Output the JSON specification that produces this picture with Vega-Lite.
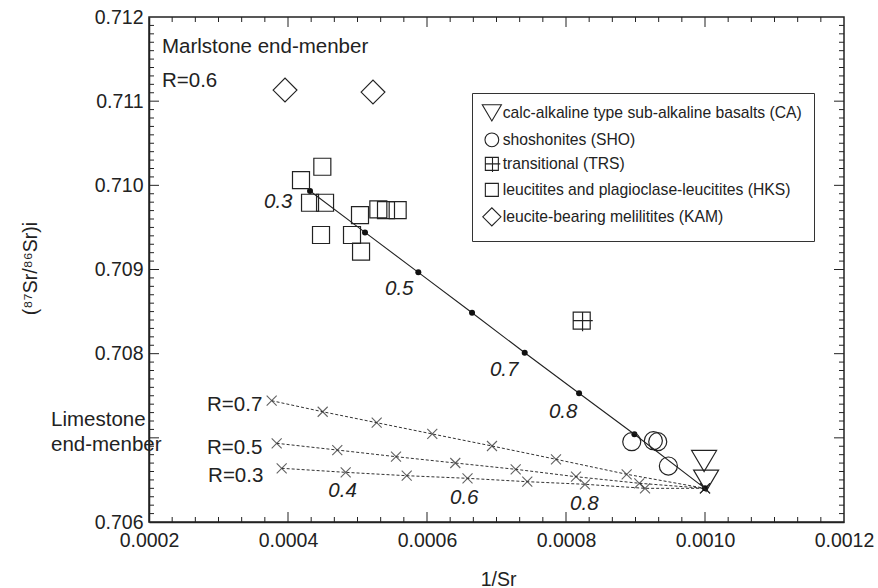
{
  "$schema": "https://vega.github.io/schema/vega-lite/v6.json",
  "width": 695,
  "height": 505,
  "autosize": {"type": "none"},
  "padding": {"left": 149, "top": 17, "right": 34, "bottom": 66},
  "background": "white",
  "config": {
    "view": {"stroke": "#222", "strokeWidth": 1.5},
    "font": "Liberation Sans",
    "axis": {
      "grid": false,
      "labelFont": "Liberation Sans",
      "labelFontSize": 19.5,
      "labelColor": "#222",
      "domainColor": "#222",
      "domainWidth": 1.5,
      "titleFont": "Liberation Sans",
      "titleFontSize": 19.5,
      "titleFontWeight": "normal",
      "titleColor": "#222"
    }
  },
  "datasets": {
    "xticks": [
      {"v": 0.0004, "kind": "major"}, {"v": 0.0006, "kind": "major"}, {"v": 0.0008, "kind": "major"}, {"v": 0.001, "kind": "major"},
      {"v": 0.000233333, "kind": "minor"}, {"v": 0.000266667, "kind": "minor"}, {"v": 0.0003, "kind": "minor"}, {"v": 0.000333333, "kind": "minor"}, {"v": 0.000366667, "kind": "minor"},
      {"v": 0.000433333, "kind": "minor"}, {"v": 0.000466667, "kind": "minor"}, {"v": 0.0005, "kind": "minor"}, {"v": 0.000533333, "kind": "minor"}, {"v": 0.000566667, "kind": "minor"},
      {"v": 0.000633333, "kind": "minor"}, {"v": 0.000666667, "kind": "minor"}, {"v": 0.0007, "kind": "minor"}, {"v": 0.000733333, "kind": "minor"}, {"v": 0.000766667, "kind": "minor"},
      {"v": 0.000833333, "kind": "minor"}, {"v": 0.000866667, "kind": "minor"}, {"v": 0.0009, "kind": "minor"}, {"v": 0.000933333, "kind": "minor"}, {"v": 0.000966667, "kind": "minor"},
      {"v": 0.001033333, "kind": "minor"}, {"v": 0.001066667, "kind": "minor"}, {"v": 0.0011, "kind": "minor"}, {"v": 0.001133333, "kind": "minor"}, {"v": 0.001166667, "kind": "minor"}
    ],
    "yticks": [
      {"v": 0.707, "kind": "major"}, {"v": 0.708, "kind": "major"}, {"v": 0.709, "kind": "major"}, {"v": 0.71, "kind": "major"}, {"v": 0.711, "kind": "major"},
      {"v": 0.7061, "kind": "minor"}, {"v": 0.7062, "kind": "minor"}, {"v": 0.7063, "kind": "minor"}, {"v": 0.7064, "kind": "minor"}, {"v": 0.7065, "kind": "minor"}, {"v": 0.7066, "kind": "minor"}, {"v": 0.7067, "kind": "minor"}, {"v": 0.7068, "kind": "minor"}, {"v": 0.7069, "kind": "minor"},
      {"v": 0.7071, "kind": "minor"}, {"v": 0.7072, "kind": "minor"}, {"v": 0.7073, "kind": "minor"}, {"v": 0.7074, "kind": "minor"}, {"v": 0.7075, "kind": "minor"}, {"v": 0.7076, "kind": "minor"}, {"v": 0.7077, "kind": "minor"}, {"v": 0.7078, "kind": "minor"}, {"v": 0.7079, "kind": "minor"},
      {"v": 0.7081, "kind": "minor"}, {"v": 0.7082, "kind": "minor"}, {"v": 0.7083, "kind": "minor"}, {"v": 0.7084, "kind": "minor"}, {"v": 0.7085, "kind": "minor"}, {"v": 0.7086, "kind": "minor"}, {"v": 0.7087, "kind": "minor"}, {"v": 0.7088, "kind": "minor"}, {"v": 0.7089, "kind": "minor"},
      {"v": 0.7091, "kind": "minor"}, {"v": 0.7092, "kind": "minor"}, {"v": 0.7093, "kind": "minor"}, {"v": 0.7094, "kind": "minor"}, {"v": 0.7095, "kind": "minor"}, {"v": 0.7096, "kind": "minor"}, {"v": 0.7097, "kind": "minor"}, {"v": 0.7098, "kind": "minor"}, {"v": 0.7099, "kind": "minor"},
      {"v": 0.7101, "kind": "minor"}, {"v": 0.7102, "kind": "minor"}, {"v": 0.7103, "kind": "minor"}, {"v": 0.7104, "kind": "minor"}, {"v": 0.7105, "kind": "minor"}, {"v": 0.7106, "kind": "minor"}, {"v": 0.7107, "kind": "minor"}, {"v": 0.7108, "kind": "minor"}, {"v": 0.7109, "kind": "minor"},
      {"v": 0.7111, "kind": "minor"}, {"v": 0.7112, "kind": "minor"}, {"v": 0.7113, "kind": "minor"}, {"v": 0.7114, "kind": "minor"}, {"v": 0.7115, "kind": "minor"}, {"v": 0.7116, "kind": "minor"}, {"v": 0.7117, "kind": "minor"}, {"v": 0.7118, "kind": "minor"}, {"v": 0.7119, "kind": "minor"}
    ],
    "dash": [
      {"series": "R=0.7", "f": 0.3, "inv_sr": 0.0003765, "sr_ratio": 0.707441},
      {"series": "R=0.7", "f": 0.4, "inv_sr": 0.0004499, "sr_ratio": 0.70731},
      {"series": "R=0.7", "f": 0.5, "inv_sr": 0.0005276, "sr_ratio": 0.70718},
      {"series": "R=0.7", "f": 0.6, "inv_sr": 0.0006076, "sr_ratio": 0.707046},
      {"series": "R=0.7", "f": 0.7, "inv_sr": 0.0006935, "sr_ratio": 0.706903},
      {"series": "R=0.7", "f": 0.8, "inv_sr": 0.0007856, "sr_ratio": 0.706745},
      {"series": "R=0.7", "f": 0.9, "inv_sr": 0.0008873, "sr_ratio": 0.706567},
      {"series": "R=0.7", "f": 1.0, "inv_sr": 0.001, "sr_ratio": 0.7064},
      {"series": "R=0.5", "f": 0.3, "inv_sr": 0.0003837, "sr_ratio": 0.706935},
      {"series": "R=0.5", "f": 0.4, "inv_sr": 0.0004709, "sr_ratio": 0.706855},
      {"series": "R=0.5", "f": 0.5, "inv_sr": 0.0005554, "sr_ratio": 0.706776},
      {"series": "R=0.5", "f": 0.6, "inv_sr": 0.0006407, "sr_ratio": 0.706701},
      {"series": "R=0.5", "f": 0.7, "inv_sr": 0.0007276, "sr_ratio": 0.706626},
      {"series": "R=0.5", "f": 0.8, "inv_sr": 0.0008144, "sr_ratio": 0.706538},
      {"series": "R=0.5", "f": 0.9, "inv_sr": 0.0009055, "sr_ratio": 0.70646},
      {"series": "R=0.5", "f": 1.0, "inv_sr": 0.001, "sr_ratio": 0.7064},
      {"series": "R=0.3", "f": 0.3, "inv_sr": 0.0003909, "sr_ratio": 0.706638},
      {"series": "R=0.3", "f": 0.4, "inv_sr": 0.000483, "sr_ratio": 0.70659},
      {"series": "R=0.3", "f": 0.5, "inv_sr": 0.0005708, "sr_ratio": 0.70655},
      {"series": "R=0.3", "f": 0.6, "inv_sr": 0.0006583, "sr_ratio": 0.706519},
      {"series": "R=0.3", "f": 0.7, "inv_sr": 0.0007443, "sr_ratio": 0.706479},
      {"series": "R=0.3", "f": 0.8, "inv_sr": 0.0008273, "sr_ratio": 0.706448},
      {"series": "R=0.3", "f": 0.9, "inv_sr": 0.0009137, "sr_ratio": 0.7064},
      {"series": "R=0.3", "f": 1.0, "inv_sr": 0.001, "sr_ratio": 0.7064}
    ],
    "mix": [
      {"f": 0.3, "inv_sr": 0.0004317, "sr_ratio": 0.709932},
      {"f": 0.4, "inv_sr": 0.0005108, "sr_ratio": 0.709441},
      {"f": 0.5, "inv_sr": 0.0005875, "sr_ratio": 0.708966},
      {"f": 0.6, "inv_sr": 0.0006648, "sr_ratio": 0.708486},
      {"f": 0.7, "inv_sr": 0.0007406, "sr_ratio": 0.708011},
      {"f": 0.8, "inv_sr": 0.0008188, "sr_ratio": 0.707529},
      {"f": 0.9, "inv_sr": 0.0008984, "sr_ratio": 0.707042},
      {"f": 1.0, "inv_sr": 0.001, "sr_ratio": 0.7064}
    ],
    "samples": [
      {"group": "calc-alkaline type sub-alkaline basalts (CA)", "inv_sr": 0.0009987, "sr_ratio": 0.706725},
      {"group": "calc-alkaline type sub-alkaline basalts (CA)", "inv_sr": 0.0010016, "sr_ratio": 0.706491},
      {"group": "shoshonites (SHO)", "inv_sr": 0.0008946, "sr_ratio": 0.706954},
      {"group": "shoshonites (SHO)", "inv_sr": 0.0009257, "sr_ratio": 0.706966},
      {"group": "shoshonites (SHO)", "inv_sr": 0.000932, "sr_ratio": 0.706954},
      {"group": "shoshonites (SHO)", "inv_sr": 0.0009473, "sr_ratio": 0.706665},
      {"group": "transitional (TRS)", "inv_sr": 0.0008226, "sr_ratio": 0.708392},
      {"group": "leucitites and plagioclase-leucitites (HKS)", "inv_sr": 0.0004187, "sr_ratio": 0.710063},
      {"group": "leucitites and plagioclase-leucitites (HKS)", "inv_sr": 0.0004494, "sr_ratio": 0.710221},
      {"group": "leucitites and plagioclase-leucitites (HKS)", "inv_sr": 0.0004317, "sr_ratio": 0.709793},
      {"group": "leucitites and plagioclase-leucitites (HKS)", "inv_sr": 0.0004533, "sr_ratio": 0.709793},
      {"group": "leucitites and plagioclase-leucitites (HKS)", "inv_sr": 0.0004475, "sr_ratio": 0.70941},
      {"group": "leucitites and plagioclase-leucitites (HKS)", "inv_sr": 0.0005036, "sr_ratio": 0.709647},
      {"group": "leucitites and plagioclase-leucitites (HKS)", "inv_sr": 0.0004921, "sr_ratio": 0.70941},
      {"group": "leucitites and plagioclase-leucitites (HKS)", "inv_sr": 0.0005051, "sr_ratio": 0.709212},
      {"group": "leucitites and plagioclase-leucitites (HKS)", "inv_sr": 0.00053, "sr_ratio": 0.709714},
      {"group": "leucitites and plagioclase-leucitites (HKS)", "inv_sr": 0.000541, "sr_ratio": 0.709706},
      {"group": "leucitites and plagioclase-leucitites (HKS)", "inv_sr": 0.0005578, "sr_ratio": 0.709706},
      {"group": "leucite-bearing melilitites (KAM)", "inv_sr": 0.0003957, "sr_ratio": 0.711132},
      {"group": "leucite-bearing melilitites (KAM)", "inv_sr": 0.0005223, "sr_ratio": 0.711108}
    ],
    "notes": [
      {"label": "Marlstone end-menber", "inv_sr": 0.0002187, "sr_ratio": 0.711572},
      {"label": "R=0.6", "inv_sr": 0.0002187, "sr_ratio": 0.711165},
      {"label": "R=0.7", "inv_sr": 0.0002835, "sr_ratio": 0.707322},
      {"label": "R=0.5", "inv_sr": 0.0002835, "sr_ratio": 0.706804},
      {"label": "R=0.3", "inv_sr": 0.000285, "sr_ratio": 0.706479},
      {"label": "Limestone", "inv_sr": 0.000059, "sr_ratio": 0.707144},
      {"label": "end-menber", "inv_sr": 0.000059, "sr_ratio": 0.706847}
    ],
    "fractions": [
      {"label": "0.3", "inv_sr": 0.0003655, "sr_ratio": 0.709727},
      {"label": "0.5", "inv_sr": 0.0005396, "sr_ratio": 0.708697},
      {"label": "0.7", "inv_sr": 0.0006906, "sr_ratio": 0.707738},
      {"label": "0.8", "inv_sr": 0.0007755, "sr_ratio": 0.707232},
      {"label": "0.4", "inv_sr": 0.000458, "sr_ratio": 0.706301},
      {"label": "0.6", "inv_sr": 0.0006331, "sr_ratio": 0.706214},
      {"label": "0.8", "inv_sr": 0.0008058, "sr_ratio": 0.706143}
    ]
  },
  "resolve": {"axis": {"x": "independent", "y": "independent"}},
  "layer": [
    {
      "data": {"name": "dash"},
      "mark": {"type": "line", "strokeDash": [3, 2], "strokeWidth": 1, "color": "#333"},
      "encoding": {
        "x": {
          "field": "inv_sr", "type": "quantitative",
          "scale": {"domain": [0.0002, 0.0012], "nice": false, "zero": false},
          "axis": {
            "orient": "bottom",
            "values": [0.0002, 0.0004, 0.0006, 0.0008, 0.001, 0.0012],
            "format": ".4f",
            "ticks": false,
            "labelPadding": 9.5,
            "labelFlush": false,
            "labelOverlap": false,
            "title": "1/Sr",
            "titleX": 349,
            "titleY": 63,
            "titleAlign": "center",
            "titleBaseline": "alphabetic",
            "titleAngle": 0
          }
        },
        "y": {
          "field": "sr_ratio", "type": "quantitative",
          "scale": {"domain": [0.706, 0.712], "nice": false, "zero": false},
          "axis": {
            "orient": "left",
            "values": [0.706, 0.707, 0.708, 0.709, 0.71, 0.711, 0.712],
            "labelExpr": "abs(datum.value-0.707)<0.00001 ? '' : format(datum.value,'.3f')",
            "ticks": false,
            "labelPadding": 6,
            "labelFlush": false,
            "labelOverlap": false,
            "title": "(⁸⁷Sr/⁸⁶Sr)i",
            "titleX": -113,
            "titleY": 251,
            "titleAlign": "center",
            "titleBaseline": "alphabetic",
            "titleAngle": -90
          }
        },
        "detail": {"field": "series", "type": "nominal"}
      }
    },
    {
      "data": {"name": "xticks"},
      "transform": [{"filter": "datum.kind == 'major'"}],
      "mark": {"type": "tick", "orient": "vertical", "color": "#222", "thickness": 1, "opacity": 1, "size": 10, "yOffset": -5},
      "encoding": {
        "x": {"field": "v", "type": "quantitative", "axis": null},
        "y": {"datum": 0.706, "type": "quantitative", "axis": null}
      }
    },
    {
      "data": {"name": "xticks"},
      "transform": [{"filter": "datum.kind == 'minor'"}],
      "mark": {"type": "tick", "orient": "vertical", "color": "#222", "thickness": 1, "opacity": 1, "size": 5, "yOffset": -2.5},
      "encoding": {
        "x": {"field": "v", "type": "quantitative", "axis": null},
        "y": {"datum": 0.706, "type": "quantitative", "axis": null}
      }
    },
    {
      "data": {"name": "xticks"},
      "transform": [{"filter": "datum.kind == 'major'"}],
      "mark": {"type": "tick", "orient": "vertical", "color": "#222", "thickness": 1, "opacity": 1, "size": 10, "yOffset": 5},
      "encoding": {
        "x": {"field": "v", "type": "quantitative", "axis": null},
        "y": {"datum": 0.712, "type": "quantitative", "axis": null}
      }
    },
    {
      "data": {"name": "xticks"},
      "transform": [{"filter": "datum.kind == 'minor'"}],
      "mark": {"type": "tick", "orient": "vertical", "color": "#222", "thickness": 1, "opacity": 1, "size": 5, "yOffset": 2.5},
      "encoding": {
        "x": {"field": "v", "type": "quantitative", "axis": null},
        "y": {"datum": 0.712, "type": "quantitative", "axis": null}
      }
    },
    {
      "data": {"name": "yticks"},
      "transform": [{"filter": "datum.kind == 'major'"}],
      "mark": {"type": "tick", "orient": "horizontal", "color": "#222", "thickness": 1, "opacity": 1, "size": 10, "xOffset": 5},
      "encoding": {
        "x": {"datum": 0.0002, "type": "quantitative", "axis": null},
        "y": {"field": "v", "type": "quantitative", "axis": null}
      }
    },
    {
      "data": {"name": "yticks"},
      "transform": [{"filter": "datum.kind == 'minor'"}],
      "mark": {"type": "tick", "orient": "horizontal", "color": "#222", "thickness": 1, "opacity": 1, "size": 5, "xOffset": 2.5},
      "encoding": {
        "x": {"datum": 0.0002, "type": "quantitative", "axis": null},
        "y": {"field": "v", "type": "quantitative", "axis": null}
      }
    },
    {
      "data": {"name": "yticks"},
      "transform": [{"filter": "datum.kind == 'major'"}],
      "mark": {"type": "tick", "orient": "horizontal", "color": "#222", "thickness": 1, "opacity": 1, "size": 10, "xOffset": -5},
      "encoding": {
        "x": {"datum": 0.0012, "type": "quantitative", "axis": null},
        "y": {"field": "v", "type": "quantitative", "axis": null}
      }
    },
    {
      "data": {"name": "yticks"},
      "transform": [{"filter": "datum.kind == 'minor'"}],
      "mark": {"type": "tick", "orient": "horizontal", "color": "#222", "thickness": 1, "opacity": 1, "size": 5, "xOffset": -2.5},
      "encoding": {
        "x": {"datum": 0.0012, "type": "quantitative", "axis": null},
        "y": {"field": "v", "type": "quantitative", "axis": null}
      }
    },
    {
      "data": {"name": "dash"},
      "mark": {"type": "point", "shape": "M-1,-1L1,1M1,-1L-1,1", "size": 100, "filled": false, "color": "#222", "strokeWidth": 1.1},
      "encoding": {
        "x": {"field": "inv_sr", "type": "quantitative", "axis": null},
        "y": {"field": "sr_ratio", "type": "quantitative", "axis": null}
      }
    },
    {
      "data": {"name": "mix"},
      "mark": {"type": "line", "color": "#222", "strokeWidth": 1.1},
      "encoding": {
        "x": {"field": "inv_sr", "type": "quantitative", "axis": null},
        "y": {"field": "sr_ratio", "type": "quantitative", "axis": null}
      }
    },
    {
      "data": {"name": "mix"},
      "mark": {"type": "point", "shape": "circle", "size": 36, "filled": true, "color": "#111", "opacity": 1},
      "encoding": {
        "x": {"field": "inv_sr", "type": "quantitative", "axis": null},
        "y": {"field": "sr_ratio", "type": "quantitative", "axis": null}
      }
    },
    {
      "data": {"name": "samples"},
      "mark": {"type": "point", "filled": false, "size": 289, "color": "#222", "strokeWidth": 1.2, "opacity": 1},
      "encoding": {
        "x": {"field": "inv_sr", "type": "quantitative", "axis": null},
        "y": {"field": "sr_ratio", "type": "quantitative", "axis": null},
        "shape": {
          "field": "group", "type": "nominal",
          "scale": {
            "domain": ["calc-alkaline type sub-alkaline basalts (CA)", "shoshonites (SHO)", "transitional (TRS)", "leucitites and plagioclase-leucitites (HKS)", "leucite-bearing melilitites (KAM)"],
            "range": ["M-1.47,-1.24L1.47,-1.24L0,1.24Z", "M-1.06,0A1.06,1.06,0,1,0,1.06,0A1.06,1.06,0,1,0,-1.06,0Z", "M-1,-1H1V1H-1ZM0.1,-1V1.25M-1,0H1.3", "M-1,-1H1V1H-1Z", "M-1.4,0L0,-1.4L1.4,0L0,1.4Z"]
          },
          "legend": {
            "title": null,
            "orient": "none",
            "legendX": 323,
            "legendY": 76,
            "strokeColor": "#333",
            "fillColor": "white",
            "padding": 12,
            "rowPadding": 6,
            "labelFont": "Liberation Sans",
            "labelFontSize": 15.7,
            "labelColor": "#222",
            "labelLimit": 0,
            "labelOffset": 3,
            "symbolSize": 169,
            "symbolStrokeWidth": 1.1,
            "symbolStrokeColor": "#222",
            "symbolFillColor": "transparent"
          }
        }
      }
    },
    {
      "data": {"name": "notes"},
      "mark": {"type": "text", "align": "left", "baseline": "alphabetic", "font": "Liberation Sans", "fontSize": 20.5, "color": "#222"},
      "encoding": {
        "x": {"field": "inv_sr", "type": "quantitative", "axis": null},
        "y": {"field": "sr_ratio", "type": "quantitative", "axis": null},
        "text": {"field": "label", "type": "nominal"}
      }
    },
    {
      "data": {"name": "fractions"},
      "mark": {"type": "text", "align": "left", "baseline": "alphabetic", "font": "Liberation Sans", "fontStyle": "italic", "fontSize": 20.5, "color": "#222"},
      "encoding": {
        "x": {"field": "inv_sr", "type": "quantitative", "axis": null},
        "y": {"field": "sr_ratio", "type": "quantitative", "axis": null},
        "text": {"field": "label", "type": "nominal"}
      }
    }
  ]
}
